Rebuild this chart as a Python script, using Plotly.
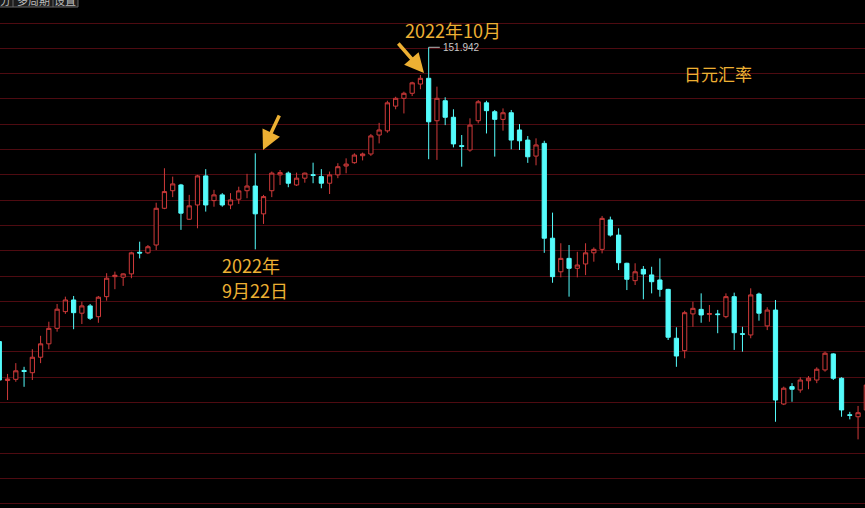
import plotly.graph_objects as go

# ---- data: USD/JPY daily candles ----
idx = list(range(106))
open_ = [135.03, 132.79, 132.86, 133.37, 133.24, 134.13, 134.90, 135.79, 136.75, 137.42,
         136.66, 137.08, 136.46, 137.61, 138.76, 138.73, 138.92, 140.16, 140.13, 140.58,
         142.69, 143.70, 144.03, 142.06, 142.88, 144.55, 143.13, 143.46, 142.88, 143.21,
         143.70, 143.97, 142.37, 143.70, 144.61, 144.71, 144.03, 144.42, 144.62, 144.51,
         144.13, 144.61, 145.12, 145.31, 145.71, 145.81, 146.90, 147.14, 148.56, 149.01,
         149.30, 149.83, 150.16, 147.72, 148.87, 147.92, 146.29, 146.04, 147.72, 148.75,
         148.24, 147.80, 148.18, 147.19, 146.61, 145.69, 146.42, 140.97, 139.04, 139.81,
         139.24, 139.49, 140.13, 140.33, 142.02, 141.15, 139.53, 138.53, 139.18, 138.86,
         138.57, 138.03, 135.22, 134.51, 136.62, 136.88, 136.59, 136.62, 136.46, 137.61,
         135.48, 135.41, 137.76, 135.93, 136.84, 131.44, 132.44, 132.25, 132.78, 132.82,
         133.40, 134.32, 132.92, 130.82, 130.71, 131.10]
high = [135.12, 133.17, 133.79, 133.58, 134.59, 135.36, 136.17, 137.19, 137.61, 137.65,
        137.32, 137.19, 137.65, 138.96, 139.05, 138.95, 140.19, 140.77, 140.58, 143.01,
        144.99, 144.51, 144.09, 143.46, 144.61, 144.94, 143.75, 143.56, 143.56, 143.93,
        144.67, 145.85, 143.46, 144.80, 144.89, 144.80, 144.74, 144.74, 145.31, 144.94,
        144.80, 145.28, 145.56, 145.85, 145.89, 146.96, 147.60, 148.87, 149.10, 149.39,
        149.96, 150.35, 151.942, 149.68, 149.07, 148.38, 146.90, 147.86, 148.91, 148.87,
        148.34, 148.43, 148.34, 147.53, 146.84, 146.71, 146.57, 142.44, 140.68, 140.58,
        140.19, 140.68, 140.44, 142.25, 142.21, 141.54, 139.56, 139.53, 139.37, 139.33,
        139.81, 138.06, 135.85, 136.80, 137.32, 137.80, 137.13, 136.85, 137.80, 137.84,
        135.88, 138.09, 137.84, 137.00, 137.42, 132.44, 132.64, 132.98, 133.05, 133.55,
        134.45, 134.36, 132.98, 130.99, 131.33, 132.64]
low = [132.71, 131.67, 132.72, 132.43, 132.82, 133.79, 134.59, 135.60, 136.62, 135.74,
       136.04, 136.27, 136.11, 137.38, 138.04, 138.23, 138.67, 139.81, 140.06, 140.29,
       142.64, 143.33, 141.45, 142.02, 141.54, 142.50, 142.78, 142.78, 142.64, 142.94,
       143.27, 140.33, 141.79, 143.33, 144.03, 143.90, 143.97, 144.16, 144.13, 143.84,
       143.51, 144.42, 144.70, 145.25, 145.44, 145.70, 146.42, 147.03, 148.38, 148.14,
       149.14, 149.53, 145.51, 145.47, 147.47, 146.19, 145.08, 145.94, 147.57, 146.99,
       145.66, 147.15, 146.08, 146.04, 145.30, 145.16, 140.13, 138.41, 138.72, 137.61,
       138.72, 138.85, 139.62, 140.10, 141.06, 139.14, 137.99, 138.28, 137.46, 137.80,
       137.61, 135.12, 133.58, 134.07, 135.88, 136.11, 136.17, 135.51, 136.37, 134.55,
       134.45, 135.22, 136.23, 135.69, 130.42, 131.38, 131.57, 132.09, 132.29, 132.64,
       133.30, 132.82, 130.71, 130.56, 129.41, 130.99]
close = [132.82, 132.88, 133.35, 133.31, 134.13, 134.90, 135.79, 136.89, 137.42, 136.69,
         137.08, 136.37, 137.58, 138.67, 138.84, 138.92, 140.13, 140.12, 140.48, 142.69,
         143.65, 144.09, 142.41, 142.83, 144.55, 142.88, 143.46, 142.88, 143.17, 143.69,
         143.97, 142.37, 143.36, 144.71, 144.74, 144.13, 144.42, 144.71, 144.58, 144.13,
         144.61, 145.08, 145.23, 145.75, 145.81, 146.85, 147.19, 148.75, 149.01, 149.30,
         149.90, 150.16, 147.66, 149.01, 147.92, 146.39, 146.25, 147.47, 148.81, 148.30,
         147.80, 148.18, 146.61, 146.57, 145.65, 146.33, 140.97, 138.76, 139.81, 139.24,
         139.43, 140.13, 140.33, 142.11, 141.15, 139.56, 138.61, 139.04, 138.91, 138.47,
         138.03, 135.28, 134.20, 136.69, 136.94, 136.56, 136.64, 136.58, 137.61, 135.54,
         135.45, 137.71, 136.66, 136.84, 131.67, 132.35, 132.29, 132.82, 132.92, 133.44,
         134.36, 132.92, 131.10, 130.79, 130.94, 132.53]

W, H = 865, 508
ORANGE = "#EDB033"
CJK = "Noto Sans CJK SC"

def px(x):
    return x / W

def py(y):
    return 1 - y / H

fig = go.Figure(go.Candlestick(
    x=idx, open=open_, high=high, low=low, close=close,
    increasing=dict(line=dict(color="#D03A3A", width=1), fillcolor="#000000"),
    decreasing=dict(line=dict(color="#54FCFC", width=1), fillcolor="#54FCFC"),
    whiskerwidth=0, hoverinfo="skip",
))

imax = max(range(len(high)), key=lambda i: high[i])

shapes = [
    # high marker leader
    dict(type="line", xref="x", yref="y", x0=imax, x1=imax + 1.35,
         y0=high[imax], y1=high[imax], line=dict(color="#BBBBBB", width=1)),
    # cut-off tab strip at top-left
    dict(type="rect", xref="paper", yref="paper", x0=px(-1), x1=px(78),
         y0=py(7), y1=py(-12), fillcolor="#1C1C1C", line=dict(color="#666666", width=1)),
    dict(type="line", xref="paper", yref="paper", x0=px(13), x1=px(13),
         y0=py(7), y1=py(-2), line=dict(color="#666666", width=1)),
    dict(type="line", xref="paper", yref="paper", x0=px(53), x1=px(53),
         y0=py(7), y1=py(-2), line=dict(color="#666666", width=1)),
]

annotations = [
    dict(xref="x", yref="y", x=imax + 1.35, y=high[imax], text="151.942",
         showarrow=False, xanchor="left", yanchor="middle", xshift=1,
         font=dict(family="Liberation Sans, Arial", size=10, color="#C8C8C8")),
    dict(xref="paper", yref="paper", x=px(453), y=py(30), text="2022年10月",
         showarrow=False, xanchor="center", yanchor="middle",
         font=dict(family=CJK, size=18, color=ORANGE)),
    dict(xref="paper", yref="paper", x=px(220), y=py(265), text="2022年",
         showarrow=False, xanchor="left", yanchor="middle", align="left",
         font=dict(family=CJK, size=18, color=ORANGE)),
    dict(xref="paper", yref="paper", x=px(220), y=py(290), text="9月22日",
         showarrow=False, xanchor="left", yanchor="middle", align="left",
         font=dict(family=CJK, size=18, color=ORANGE)),
    dict(xref="paper", yref="paper", x=px(718), y=py(74), text="日元汇率",
         showarrow=False, xanchor="center", yanchor="middle",
         font=dict(family=CJK, size=17, color=ORANGE)),
    # arrows
    dict(xref="paper", yref="paper", x=px(424), y=py(73), text="", showarrow=True,
         ax=-27, ay=-31, arrowhead=2, arrowsize=1.1, arrowwidth=3.5,
         arrowcolor=ORANGE, standoff=0),
    dict(xref="paper", yref="paper", x=px(263), y=py(150), text="", showarrow=True,
         ax=17, ay=-36, arrowhead=2, arrowsize=1.1, arrowwidth=3.5,
         arrowcolor=ORANGE, standoff=0),
    # tab texts (cut off by the top edge, as in the source screenshot)
    dict(xref="paper", yref="paper", x=px(5), y=py(0), text="分", showarrow=False,
         xanchor="center", yanchor="middle", font=dict(family=CJK, size=11, color="#BBBBBB")),
    dict(xref="paper", yref="paper", x=px(33), y=py(0), text="多周期", showarrow=False,
         xanchor="center", yanchor="middle", font=dict(family=CJK, size=11, color="#BBBBBB")),
    dict(xref="paper", yref="paper", x=px(65), y=py(0), text="设置", showarrow=False,
         xanchor="center", yanchor="middle", font=dict(family=CJK, size=11, color="#BBBBBB")),
]

fig.update_layout(
    width=W, height=H,
    margin=dict(l=0, r=0, t=0, b=0),
    paper_bgcolor="#000000", plot_bgcolor="#000000",
    showlegend=False, boxgap=0.27,
    xaxis=dict(range=[0.085, 104.84], showgrid=False, zeroline=False,
               showticklabels=False, ticks="", rangeslider=dict(visible=False),
               fixedrange=True),
    yaxis=dict(range=[125.465, 154.66], showgrid=True, gridcolor="#4E0B11", gridwidth=1,
               tick0=153.338, dtick=1.454, zeroline=False, showticklabels=False,
               ticks="", fixedrange=True),
    shapes=shapes, annotations=annotations,
)

fig.write_html(
    "out.html",
    config={"displayModeBar": False},
    post_script="document.body.style.margin='0';document.body.style.background='#000';",
)
